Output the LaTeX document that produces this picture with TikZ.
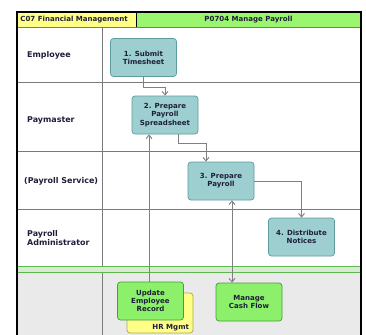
\documentclass[tikz,border=0pt]{standalone}
\usepackage{fontspec}
\setmainfont{DejaVu Sans}
\usetikzlibrary{calc,arrows.meta}
\definecolor{tealfill}{HTML}{9DCFD0}
\definecolor{tealline}{HTML}{5E9C9E}
\definecolor{greenfill}{HTML}{8CF06A}
\definecolor{greenline}{HTML}{4A9A3E}
\definecolor{hryellow}{HTML}{FFFF88}
\definecolor{hryline}{HTML}{A8A850}
\definecolor{hdryellow}{HTML}{FFFF88}
\definecolor{hdrgreen}{HTML}{9CF56E}
\definecolor{lanegray}{HTML}{7A7A7A}
\definecolor{flowgray}{HTML}{808080}
\definecolor{bandgray}{HTML}{EAEAEA}
\definecolor{bandgreen}{HTML}{5CB84C}
\definecolor{bandlight}{HTML}{D8EAD4}
\definecolor{txtdark}{HTML}{1E1E3A}
\tikzset{
  task/.style={draw=tealline, fill=tealfill, rounded corners=0.09cm, line width=0.6pt,
    minimum width=66*0.03cm, minimum height=38*0.03cm, inner sep=1pt, align=center,
    font=\fontsize{6}{7}\selectfont\bfseries, text=txtdark},
  ext/.style={task, draw=greenline, fill=greenfill},
  hrbox/.style={task, draw=hryline, fill=hryellow, minimum height=40*0.03cm},
  lane/.style={anchor=west, align=left, font=\fontsize{6.8}{8}\selectfont\bfseries, text=txtdark},
  hdr/.style={font=\fontsize{6}{7}\selectfont\bfseries, text=txtdark, inner sep=1pt},
  flow/.style={draw=flowgray, line width=0.8pt, -{Straight Barb[length=3pt,width=5pt]}},
}
\begin{document}
\begin{tikzpicture}[x=0.03cm,y=-0.03cm]
  \useasboundingbox (0,0) rectangle (366,334);
  \clip (0,0) rectangle (366,334);
  \fill[white] (0,0) rectangle (366,334);
  \fill[bandgray] (17,269) rectangle (361,340);
  \fill[hdryellow] (17,12) rectangle (136,27);
  \fill[hdrgreen] (136,12) rectangle (361,27);
  \draw[lanegray, line width=0.6pt] (17,27) -- (361,27);
  \draw[lanegray, line width=0.6pt] (102,27) -- (102,340);
  \foreach \y in {82,151,209}
    \draw[lanegray, line width=0.6pt] (17,\y) -- (361,\y);
  \fill[bandlight] (17,266.5) rectangle (361,271.5);
  \draw[bandgreen, line width=0.8pt] (17,266) -- (361,266) (17,272) -- (361,272);
  \draw[black, line width=1pt] (17,340) -- (17,12) -- (361,12) -- (361,340);
  \draw[black, line width=0.8pt] (136,12) -- (136,27);

  \node[hdr, anchor=west] (unit) at (19,19.5) {C07 Financial Management};
  \node[hdr] (proc) at (248.5,19.5) {P0704 Manage Payroll};

  \node[lane] (emp) at (23,55) {Employee};
  \node[lane] (pay) at (23,120) {Paymaster};
  \node[lane] (svc) at (20,181) {(Payroll Service)};
  \node[lane] (adm) at (23,238) {Payroll\\Administrator};

  \node[task] (submit) at (143.5,57.5) {1. Submit\\Timesheet};
  \node[task] (sheet) at (165,115) {2. Prepare\\Payroll\\Spreadsheet};
  \node[task] (prep) at (221,181) {3. Prepare\\Payroll};
  \node[task] (dist) at (301.5,237) {4. Distribute\\Notices};
  \node[hrbox] (hr) at (160,313) {};
  \node[hdr, anchor=south east] (hrname) at ($(hr.south east)+(-3,-1)$) {HR Mgmt};
  \node[ext] (update) at (150.5,301) {Update\\Employee\\Record};
  \node[ext] (cash) at (249,302) {Manage\\Cash Flow};

  \draw[flow] (submit.south) -- ++(0,11) -| (sheet.north);
  \draw[flow] ($(sheet.south)+(13,0)$) -- ++(0,9) -| ($(prep.north)+(-15,0)$);
  \draw[flow] (prep.east) -| (dist.north);
  \draw[flow] ($(update.north)+(-1.5,0)$) coordinate (u) -- (u |- sheet.south);
  \draw[flow, {Straight Barb[length=3pt,width=5pt]}-{Straight Barb[length=3pt,width=5pt]}]
    ($(prep.south)+(11,0)$) coordinate (c) -- (c |- cash.north);
\end{tikzpicture}
\end{document}
